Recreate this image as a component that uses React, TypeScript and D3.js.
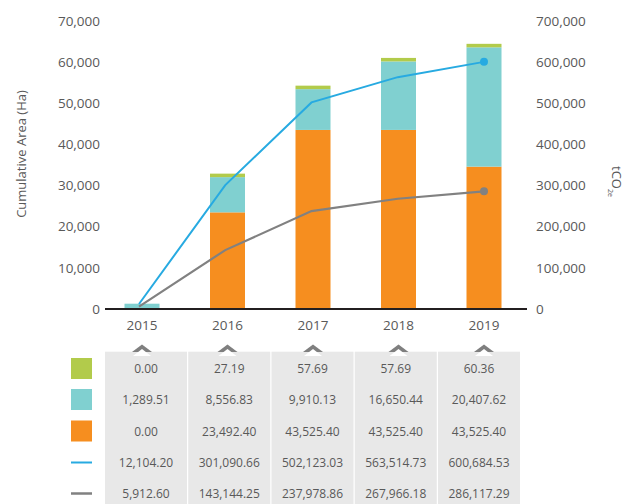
import React from "react";
import * as d3 from "d3";

const years = ["2015", "2016", "2017", "2018", "2019"];
// bar segments as drawn in the picture (Ha)
const barOrange = [0, 23492.4, 43525.4, 43525.4, 34600];
const barCyan = [1289.51, 8556.83, 9910.13, 16650.44, 29000];
const barGreen = [0, 27.19, 57.69, 57.69, 60.36];
// lines (tCO2e)
const lineBlue = [12104.2, 301090.66, 502123.03, 563514.73, 600684.53];
const lineGray = [5912.6, 143144.25, 237978.86, 267966.18, 286117.29];
// table text
const tableGreen = ["0.00", "27.19", "57.69", "57.69", "60.36"];
const tableCyan = ["1,289.51", "8,556.83", "9,910.13", "16,650.44", "20,407.62"];
const tableOrange = ["0.00", "23,492.40", "43,525.40", "43,525.40", "43,525.40"];
const tableBlue = ["12,104.20", "301,090.66", "502,123.03", "563,514.73", "600,684.53"];
const tableGray = ["5,912.60", "143,144.25", "237,978.86", "267,966.18", "286,117.29"];
const leftTicks = [0, 10000, 20000, 30000, 40000, 50000, 60000, 70000];
const rightTicks = [0, 100000, 200000, 300000, 400000, 500000, 600000, 700000];

const C_GREEN = "#b2cb4b";
const C_CYAN = "#80d0d0";
const C_ORANGE = "#f68e1f";
const C_BLUE = "#27aae1";
const C_GRAY = "#818181";
const TXT = "#595959";
const FONT = "'Open Sans', sans-serif";

export default function App() {
  const W = 628, H = 504;
  const yL = d3.scaleLinear().domain([0, 70000]).range([309, 21]);
  const yR = d3.scaleLinear().domain([0, 700000]).range([309, 21]);
  const xBar = d3.scalePoint<string>().domain(years).range([142, 484]);
  const xLine = d3.scalePoint<string>().domain(years).range([139, 484]);
  const xCol = d3.scalePoint<string>().domain(years).range([146, 479]);
  const bw = 35;
  const colW = 82;
  const fmt = d3.format(",");

  const line = d3.line<number>().x((_, i) => xLine(years[i])!);
  const bluePath = line.y((v) => yR(v))(lineBlue) || "";
  const grayPath = line.y((v) => yR(v))(lineGray) || "";

  const rowY = [369, 400, 431.5, 462.5, 493.5];
  const rows = [tableGreen, tableCyan, tableOrange, tableBlue, tableGray];

  return (
    <svg width={W} height={H} style={{ position: "absolute", left: 0, top: 0, display: "block", background: "#fff" }} fontFamily={FONT}>
      {/* bars */}
      {years.map((y, i) => {
        const cx = xBar(y)!;
        const o0 = yL(0), o1 = yL(barOrange[i]);
        const c1 = yL(barOrange[i] + barCyan[i]);
        const gTop = barGreen[i] > 0 ? Math.min(yL(barOrange[i] + barCyan[i] + barGreen[i]), c1 - 3.5) : c1;
        return (
          <g key={y}>
            {barOrange[i] > 0 && <rect x={cx - bw / 2} y={o1} width={bw} height={o0 - o1} fill={C_ORANGE} />}
            <rect x={cx - bw / 2} y={c1} width={bw} height={o1 - c1} fill={C_CYAN} />
            {barGreen[i] > 0 && <rect x={cx - bw / 2} y={gTop} width={bw} height={c1 - gTop} fill={C_GREEN} />}
          </g>
        );
      })}
      {/* axis line */}
      <line x1={105} x2={527} y1={309} y2={309} stroke="#231f20" strokeWidth={2} />
      {/* lines */}
      <path d={grayPath} fill="none" stroke={C_GRAY} strokeWidth={2.2} />
      <path d={bluePath} fill="none" stroke={C_BLUE} strokeWidth={2} />
      <circle cx={xLine("2019")} cy={yR(lineGray[4])} r={4} fill={C_GRAY} />
      <circle cx={xLine("2019")} cy={yR(lineBlue[4])} r={4} fill={C_BLUE} />
      {/* left ticks */}
      {leftTicks.map((t) => (
        <text key={t} x={100} y={yL(t)} dy="0.35em" textAnchor="end" fontSize={13.5} fill={TXT}>{fmt(t)}</text>
      ))}
      {rightTicks.map((t) => (
        <text key={t} x={536} y={yR(t)} dy="0.35em" textAnchor="start" fontSize={13.5} fill={TXT}>{fmt(t)}</text>
      ))}
      {years.map((y) => (
        <text key={y} x={xBar(y)} y={325} dy="0.35em" textAnchor="middle" fontSize={13.5} fill={TXT}>{y}</text>
      ))}
      <text transform="translate(26,154) rotate(-90)" textAnchor="middle" fontSize={13} fill={TXT}>Cumulative Area (Ha)</text>
      <text transform="translate(612,166) rotate(90)" textAnchor="start" fontSize={13} fill={TXT}>
        tCO<tspan fontSize={7} dy={4}>2e</tspan>
      </text>
      {/* table */}
      {years.map((y) => {
        const cx = xCol(y)!;
        const kx = xBar(y)!;
        return (
          <g key={"col" + y}>
            <rect x={cx - colW / 2} y={351.7} width={colW} height={H - 351.7} fill="#e8e8e8" />
            <path d={`M${kx - 10},352 L${kx},344.5 L${kx + 10},352 Z`} fill="#7f7f7f" />
            <path d={`M${kx - 9},356 L${kx},349 L${kx + 9},356 Z`} fill="#ffffff" />
          </g>
        );
      })}
      {rows.map((r, ri) =>
        r.map((s, ci) => (
          <text key={ri + "-" + ci} x={xCol(years[ci])} y={rowY[ri]} dy="0.35em" textAnchor="middle" fontSize={12} fill={TXT}>{s}</text>
        ))
      )}
      {/* legend swatches */}
      <rect x={71} y={rowY[0] - 11} width={21} height={21} fill={C_GREEN} />
      <rect x={71} y={rowY[1] - 11} width={21} height={21} fill={C_CYAN} />
      <rect x={71} y={rowY[2] - 11} width={21} height={21} fill={C_ORANGE} />
      <line x1={71} x2={92} y1={rowY[3]} y2={rowY[3]} stroke={C_BLUE} strokeWidth={2} />
      <line x1={71} x2={92} y1={rowY[4]} y2={rowY[4]} stroke={C_GRAY} strokeWidth={2.5} />
    </svg>
  );
}
